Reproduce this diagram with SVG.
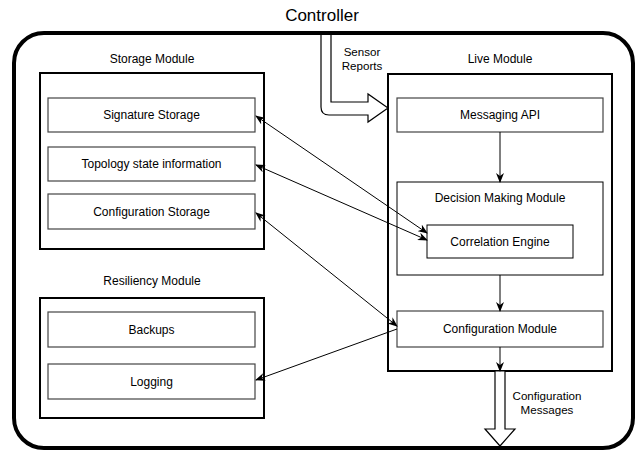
<svg xmlns="http://www.w3.org/2000/svg" width="644" height="456" viewBox="0 0 644 456">
  <defs>
    <style>
      text { font-family: "Liberation Sans", Arial, sans-serif; fill: #000; text-anchor: middle; dominant-baseline: central; }
      .t12 { font-size: 12px; }
      .t11 { font-size: 11.6px; }
      .module { fill: #fff; stroke: #000; stroke-width: 2; }
      .sub { fill: #fff; stroke: #000; stroke-width: 1; }
      .item { fill: #fff; stroke: #444; stroke-width: 1.2; }
      .link { fill: none; stroke: #000; stroke-width: 1; }
      .flow { fill: #fff; stroke: #000; stroke-width: 1.2; stroke-linejoin: miter; }
    </style>
    <marker id="arr" viewBox="0 0 10 8" refX="9" refY="4" markerWidth="10" markerHeight="8" markerUnits="userSpaceOnUse" orient="auto-start-reverse">
      <path d="M0,0 L10,4 L0,8 L3,4 Z" fill="#000"/>
    </marker>
  </defs>

  <rect width="644" height="456" fill="#fff"/>

  <!-- controller frame -->
  <g id="controller">
    <rect x="14" y="33" width="619" height="415" rx="30" ry="30" fill="none" stroke="#000" stroke-width="4"/>
    <text x="322" y="15" style="font-size:17px">Controller</text>
  </g>

  <!-- storage module -->
  <g id="storage-module">
    <text class="t12" x="152" y="59">Storage Module</text>
    <rect class="module" x="40" y="73" width="224" height="176"/>
  </g>
  <g id="signature-storage">
    <rect class="item" x="48" y="98" width="207" height="34"/>
    <text class="t12" x="151.5" y="115">Signature Storage</text>
  </g>
  <g id="topology-state">
    <rect class="item" x="48" y="147" width="207" height="34"/>
    <text class="t12" x="151.5" y="164">Topology state information</text>
  </g>
  <g id="configuration-storage">
    <rect class="item" x="48" y="194" width="207" height="35"/>
    <text class="t12" x="151.5" y="211.5">Configuration Storage</text>
  </g>

  <!-- resiliency module -->
  <g id="resiliency-module">
    <text class="t12" x="152" y="281">Resiliency Module</text>
    <rect class="module" x="40" y="298" width="224" height="120"/>
  </g>
  <g id="backups">
    <rect class="item" x="48" y="312" width="207" height="35"/>
    <text class="t12" x="151.5" y="329.5">Backups</text>
  </g>
  <g id="logging">
    <rect class="item" x="48" y="364" width="207" height="35"/>
    <text class="t12" x="151.5" y="381.5">Logging</text>
  </g>

  <!-- live module -->
  <g id="live-module">
    <text class="t12" x="500" y="59">Live Module</text>
    <rect class="module" x="388" y="74" width="224" height="297"/>
  </g>
  <g id="messaging-api">
    <rect class="item" x="397" y="98" width="206" height="34"/>
    <text class="t12" x="500" y="115">Messaging API</text>
  </g>
  <g id="decision-making-module">
    <rect class="sub" x="397" y="182" width="206" height="93"/>
    <text class="t12" x="500" y="198">Decision Making Module</text>
  </g>
  <g id="correlation-engine">
    <rect class="sub" x="427" y="225" width="146" height="33"/>
    <text class="t12" x="500" y="241.5">Correlation Engine</text>
  </g>
  <g id="configuration-module">
    <rect class="item" x="397" y="311" width="206" height="36"/>
    <text class="t12" x="500" y="329">Configuration Module</text>
  </g>

  <!-- connectors -->
  <g id="connectors">
    <!-- sensor reports entering the live module -->
    <path class="flow" d="M321,35 V107 Q321,115 329,115 H368 V122 L388,108 L368,94 V102 H331 V35"/>
    <text class="t11" x="362" y="51">Sensor</text>
    <text class="t11" x="362" y="65">Reports</text>

    <!-- configuration messages leaving the live module -->
    <path class="flow" d="M495,371 V429 H485 L500,446 L515,429 H505 V371 Z"/>
    <text class="t11" x="547" y="395">Configuration</text>
    <text class="t11" x="547" y="409">Messages</text>

    <!-- internal pipeline -->
    <line class="link" x1="500" y1="132" x2="500" y2="182" marker-end="url(#arr)"/>
    <line class="link" x1="500" y1="275" x2="500" y2="311" marker-end="url(#arr)"/>
    <line class="link" x1="500" y1="347" x2="500" y2="371" marker-end="url(#arr)"/>

    <!-- storage access -->
    <line class="link" x1="256" y1="116" x2="427" y2="233" marker-start="url(#arr)" marker-end="url(#arr)"/>
    <line class="link" x1="256" y1="165" x2="427" y2="240" marker-start="url(#arr)" marker-end="url(#arr)"/>
    <line class="link" x1="256" y1="213" x2="397" y2="326" marker-start="url(#arr)" marker-end="url(#arr)"/>
    <line class="link" x1="397" y1="329" x2="256" y2="380" marker-end="url(#arr)"/>
  </g>
</svg>
